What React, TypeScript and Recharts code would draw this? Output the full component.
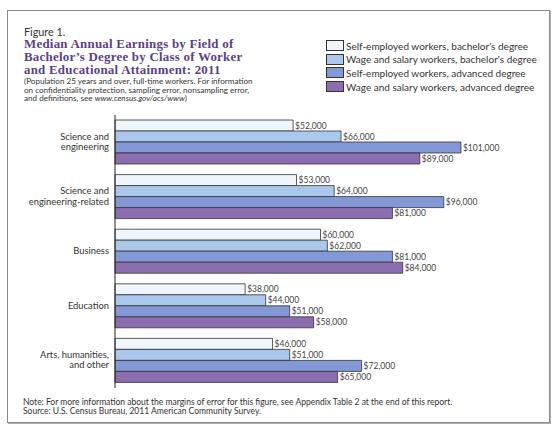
import React from "react";
import { Bar, BarChart, LabelList, XAxis, YAxis } from "recharts";

const categories = [
  "Science and\nengineering",
  "Science and\nengineering-related",
  "Business",
  "Education",
  "Arts, humanities,\nand other",
];
const selfBachelor = [52000, 53000, 60000, 38000, 46000];
const wageBachelor = [66000, 64000, 62000, 44000, 51000];
const selfAdvanced = [101000, 96000, 81000, 51000, 72000];
const wageAdvanced = [89000, 81000, 84000, 58000, 65000];

const seriesNames = [
  "Self-employed workers, bachelor's degree",
  "Wage and salary workers, bachelor's degree",
  "Self-employed workers, advanced degree",
  "Wage and salary workers, advanced degree",
];
const seriesColors = ["#eef6fc", "#a9c8ec", "#8399d7", "#8c6db0"];
const seriesKeys = ["s1", "s2", "s3", "s4"];

const data = categories.map((name, i) => ({
  name,
  s1: selfBachelor[i],
  s2: wageBachelor[i],
  s3: selfAdvanced[i],
  s4: wageAdvanced[i],
}));

const FONT = "Lato, 'Liberation Sans', sans-serif";

const money = (v: number) => "$" + v.toLocaleString("en-US");

// y-axis labels, right-aligned next to the axis, split on "\n"
function CategoryTick({ y, payload }: any) {
  const lines = String(payload.value).split("\n");
  const lh = 10.5;
  const start = -((lines.length - 1) * lh) / 2;
  const right = 109;
  return (
    <text x={right} y={y} textAnchor="end" fontFamily={FONT} fontSize={9.4} fill="#333">
      {lines.map((l, i) => (
        <tspan key={i} x={right} dy={i === 0 ? start + 2.5 : lh}>
          {l}
        </tspan>
      ))}
    </text>
  );
}

export default function App() {
  return (
    <div
      style={{
        position: "fixed",
        left: 0,
        top: 0,
        width: 560,
        height: 433,
        background: "#fff",
        fontFamily: FONT,
        color: "#333",
      }}
    >
      <div
        style={{
          position: "absolute",
          left: 7,
          top: 10,
          width: 541,
          height: 411,
          border: "1px solid #8a8a8a",
          boxShadow: "1px 1px 0 #b0b0b0",
        }}
      />
      <div style={{ position: "absolute", left: 24, top: 26, fontSize: 10.8, lineHeight: "12px" }}>
        Figure 1.
      </div>
      <div
        style={{
          position: "absolute",
          left: 24,
          top: 38,
          fontFamily: "'Liberation Serif', serif",
          fontWeight: "bold",
          fontSize: 12.9,
          letterSpacing: 0.25,
          lineHeight: "13px",
          color: "#5b3f8d",
          whiteSpace: "nowrap",
        }}
      >
        Median Annual Earnings by Field of
        <br />
        Bachelor’s Degree by Class of Worker
        <br />
        and Educational Attainment: 2011
      </div>
      <div
        style={{
          position: "absolute",
          left: 24,
          top: 77,
          fontSize: 8.1,
          lineHeight: "8.6px",
          whiteSpace: "nowrap",
        }}
      >
        (Population 25 years and over, full-time workers. For information
        <br />
        on confidentiality protection, sampling error, nonsampling error,
        <br />
        and definitions, see <i>www.census.gov/acs/www</i>)
      </div>
      <div style={{ position: "absolute", left: 326, top: 39 }}>
        {seriesNames.map((n, i) => (
          <div
            key={n}
            style={{ display: "flex", alignItems: "center", height: 13.6, whiteSpace: "nowrap" }}
          >
            <span
              style={{
                display: "inline-block",
                width: 16,
                height: 9,
                background: seriesColors[i],
                border: "1px solid #333",
                marginRight: 2,
              }}
            />
            <span style={{ fontSize: 10 }}>{n}</span>
          </div>
        ))}
      </div>
      <div
        style={{
          position: "absolute",
          left: 23,
          top: 398,
          fontSize: 8.5,
          lineHeight: "9px",
          whiteSpace: "nowrap",
        }}
      >
        Note: For more information about the margins of error for this figure, see Appendix Table 2 at the end of this report.
        <br />
        Source: U.S. Census Bureau, 2011 American Community Survey.
      </div>
      <div style={{ position: "absolute", left: 0, top: 0 }}>
        <BarChart
          width={560}
          height={433}
          data={data}
          layout="vertical"
          margin={{ top: 115, right: 34, bottom: 45, left: 0 }}
          barGap={0}
          barSize={11}
        >
          <XAxis
            type="number"
            domain={[0, 120000]}
            height={0}
            tick={false}
            tickLine={false}
            axisLine={{ stroke: "#222", strokeWidth: 1 }}
          />
          <YAxis
            type="category"
            dataKey="name"
            width={115}
            tickLine={false}
            axisLine={{ stroke: "#222", strokeWidth: 1 }}
            tick={<CategoryTick />}
            interval={0}
          />
          {seriesKeys.map((k, i) => (
            <Bar
              key={k}
              dataKey={k}
              fill={seriesColors[i]}
              stroke="#333"
              strokeWidth={0.8}
              isAnimationActive={false}
            >
              <LabelList
                dataKey={k}
                position="right"
                offset={2}
                formatter={(v: any) => money(Number(v))}
                style={{ fontFamily: FONT, fontSize: 8.5, fill: "#444" }}
              />
            </Bar>
          ))}
        </BarChart>
      </div>
    </div>
  );
}
